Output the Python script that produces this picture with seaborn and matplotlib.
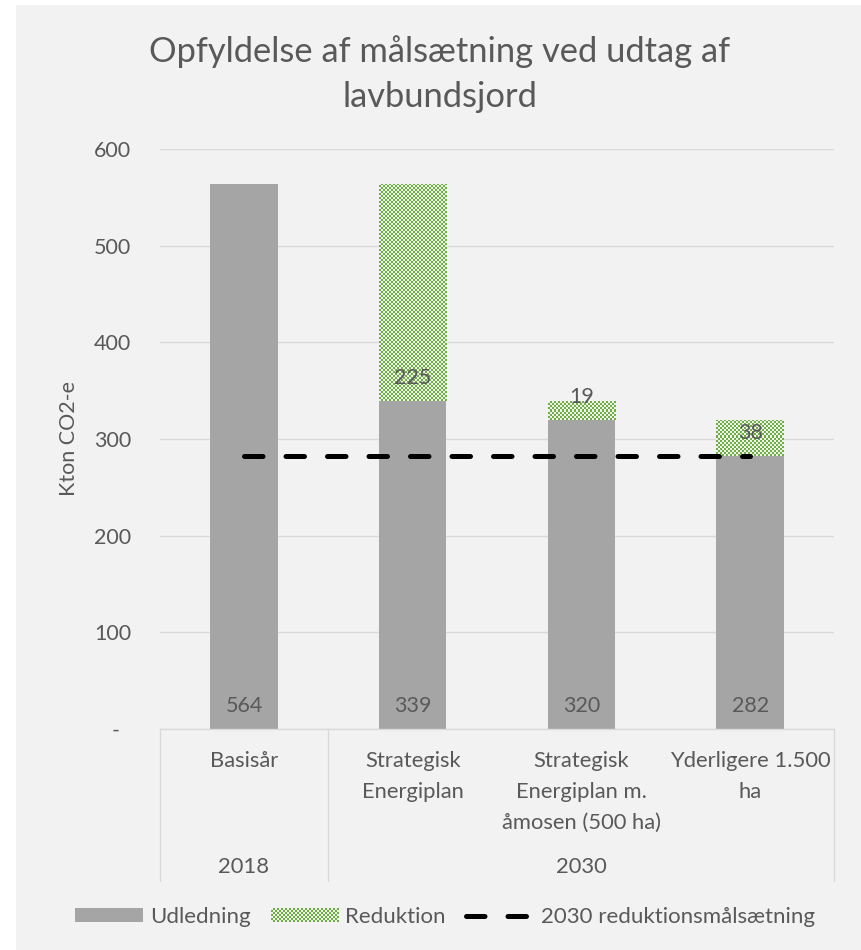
import numpy as np
import pandas as pd
import matplotlib
matplotlib.use("Agg")
import matplotlib.pyplot as plt
import seaborn as sns
from matplotlib.patches import Rectangle, Patch
from matplotlib.lines import Line2D
from matplotlib.colors import ListedColormap
from matplotlib.legend_handler import HandlerBase
from matplotlib.ticker import FuncFormatter
from matplotlib.transforms import blended_transform_factory

# ---- data -------------------------------------------------------------
categories = ["Basisår", "Strategisk\nEnergiplan",
              "Strategisk\nEnergiplan m.\nåmosen (500 ha)", "Yderligere 1.500\nha"]
groups = ["2018", "2030"]
group_centers = [0, 2]          # category position under which each group name sits
group_edges = [-0.5, 0.5, 3.5]  # boundaries of the year groups
udledning = [564, 339, 320, 282]
reduktion = [0, 225, 19, 38]
target_line = [282, 282, 282, 282]
y_ticks = [0, 100, 200, 300, 400, 500, 600]

title = "Opfyldelse af målsætning ved udtag af\nlavbundsjord"
ylabel = "Kton CO2-e"
legend_labels = ["Udledning", "Reduktion", "2030 reduktionsmålsætning"]

# ---- style ------------------------------------------------------------
GREY_BAR = "#a5a5a5"
GREEN = "#70ad47"
GREEN_LIGHT = "#eef3ea"
BG = "#f2f2f2"
GRID = "#d9d9d9"
TEXT = "#595959"

sns.set_style("white")
plt.rcParams["font.family"] = ["Lato", "DejaVu Sans"]
plt.rcParams["text.color"] = TEXT
plt.rcParams["axes.labelcolor"] = TEXT
plt.rcParams["xtick.color"] = TEXT
plt.rcParams["ytick.color"] = TEXT

W, H, DPI = 862, 950, 100
fig = plt.figure(figsize=(W / DPI, H / DPI), dpi=DPI, facecolor="white")
fig.patches.append(Rectangle((16 / W, 0), 1, (H - 5) / H, transform=fig.transFigure,
                             facecolor=BG, edgecolor="none", zorder=-10))

ax_l, ax_r, ax_t, ax_b = 159.7, 834.5, 149.0, 729.0
ax = fig.add_axes([ax_l / W, 1 - ax_b / H, (ax_r - ax_l) / W, (ax_b - ax_t) / H])
ax.set_facecolor("none")

df = pd.DataFrame({"kategori": categories, "udledning": udledning,
                   "reduktion": reduktion})

sns.barplot(data=df, x="kategori", y="udledning", color=GREY_BAR, saturation=1,
            width=0.4, errorbar=None, linewidth=0, ax=ax, zorder=2)
sns.barplot(data=df, x="kategori", y="reduktion", color=GREEN, saturation=1,
            width=0.4, errorbar=None, linewidth=0, bottom=udledning, ax=ax, zorder=2)
red_bars = ax.containers[-1]

ax.set_xlim(-0.5, 3.5)
ax.set_ylim(0, 600)

# target line
sns.lineplot(x=np.arange(len(target_line)), y=target_line, color="black", lw=3.6,
             linestyle=(0, (3.7, 4.6)), dash_capstyle="round", ax=ax, zorder=4)

# checkerboard fill for the reduction bars
checker_cmap = ListedColormap([GREEN_LIGHT, GREEN])
fig.canvas.draw()
for patch in red_bars.patches:
    x0, y0 = patch.get_x(), patch.get_y()
    w, h = patch.get_width(), patch.get_height()
    if h <= 0:
        continue
    (px0, py0), (px1, py1) = ax.transData.transform([(x0, y0), (x0 + w, y0 + h)])
    nx = max(1, int(round((px1 - px0) / 2)))
    ny = max(1, int(round((py1 - py0) / 2)))
    board = np.add.outer(np.arange(ny), np.arange(nx)) % 2
    im = ax.imshow(board, cmap=checker_cmap, extent=(x0, x0 + w, y0, y0 + h),
                   aspect="auto", interpolation="nearest", origin="lower",
                   vmin=0, vmax=1, zorder=2.5)
    im.set_clip_path(patch)
ax.set_xlim(-0.5, 3.5)
ax.set_ylim(0, 600)

# value labels at the base of each segment
LABEL_FS = 15.5
for i, v in enumerate(udledning):
    ax.annotate(f"{v}", xy=(i, 0), xytext=(0, 17), textcoords="offset pixels",
                ha="center", va="baseline", fontsize=LABEL_FS, color=TEXT, zorder=5)
for i, (b, v) in enumerate(zip(udledning, reduktion)):
    if v > 0:
        ax.annotate(f"{v}", xy=(i, b), xytext=(0, 17), textcoords="offset pixels",
                    ha="center", va="baseline", fontsize=LABEL_FS, color=TEXT, zorder=5)

# axes styling
for s in ["left", "right", "top"]:
    ax.spines[s].set_visible(False)
ax.spines["bottom"].set_color(GRID)
ax.spines["bottom"].set_linewidth(1.0)
ax.set_yticks(y_ticks)
ax.yaxis.set_major_formatter(FuncFormatter(lambda v, p: "-  " if v == 0 else f"{int(v)}"))
ax.yaxis.grid(True, color=GRID, lw=1.0)
ax.set_axisbelow(True)
ax.tick_params(axis="y", length=0, pad=20.5, labelsize=15.5)
ax.tick_params(axis="x", length=0, pad=16, labelsize=15.8)
for t in ax.get_xticklabels():
    t.set_linespacing(1.67)
ax.set_xlabel("")
ax.set_ylabel(ylabel, fontsize=15.5)
ax.yaxis.set_label_coords(-0.12, 0.5)

# category box below the plot
tb = blended_transform_factory(ax.transData, ax.transAxes)
box_depth = (881 - 729) / (ax_b - ax_t)
for xe in group_edges:
    ax.add_line(Line2D([xe, xe], [0, -box_depth], transform=tb, color=GRID,
                       lw=1.0, clip_on=False))
for gx, g in zip(group_centers, groups):
    ax.annotate(g, xy=(gx, 0), xycoords=tb, xytext=(0, -(873 - 729)),
                textcoords="offset pixels", ha="center", va="baseline",
                fontsize=15.8, color=TEXT, annotation_clip=False)

# title
TITLE_FS = 24.8
t1, t2 = title.split("\n")
fig.text(440 / W, 1 - 62 / H, t1, ha="center", va="baseline", fontsize=TITLE_FS,
         color=TEXT)
fig.text(440 / W, 1 - 107 / H, t2, ha="center", va="baseline", fontsize=TITLE_FS,
         color=TEXT)


# legend with a checkered swatch
class CheckerHandler(HandlerBase):
    def create_artists(self, legend, orig_handle, xdescent, ydescent, width, height,
                       fontsize, trans):
        cell = 1.44
        nx = max(1, int(round(width / cell)))
        ny = max(1, int(round(height / cell)))
        cw, ch = width / nx, height / ny
        arts = [Rectangle((-xdescent, -ydescent), width, height, facecolor=GREEN_LIGHT,
                          edgecolor="none", lw=0, transform=trans, antialiased=False)]
        for i in range(ny):
            for j in range(nx):
                if (i + j) % 2:
                    arts.append(Rectangle((-xdescent + j * cw, -ydescent + i * ch), cw, ch,
                                          facecolor=GREEN, edgecolor="none", lw=0,
                                          transform=trans, antialiased=False))
        return arts


LEG_FS = 16
h_grey = Patch(facecolor=GREY_BAR, edgecolor="none")
h_green = Patch(facecolor=GREEN, edgecolor="none")
h_line = Line2D([], [], color="black", lw=3.6, linestyle=(0, (3.7, 4.6)),
                dash_capstyle="round")
fig.legend([h_grey, h_green, h_line], legend_labels, loc="center",
           bbox_to_anchor=(445 / W, 1 - 917 / H), ncol=3, frameon=False,
           fontsize=LEG_FS, handlelength=68 / (LEG_FS * DPI / 72),
           handleheight=13 / (LEG_FS * DPI / 72), handletextpad=0.3,
           columnspacing=0.9, handler_map={h_green: CheckerHandler()})

fig.savefig("out.png", dpi=DPI, facecolor="white")
